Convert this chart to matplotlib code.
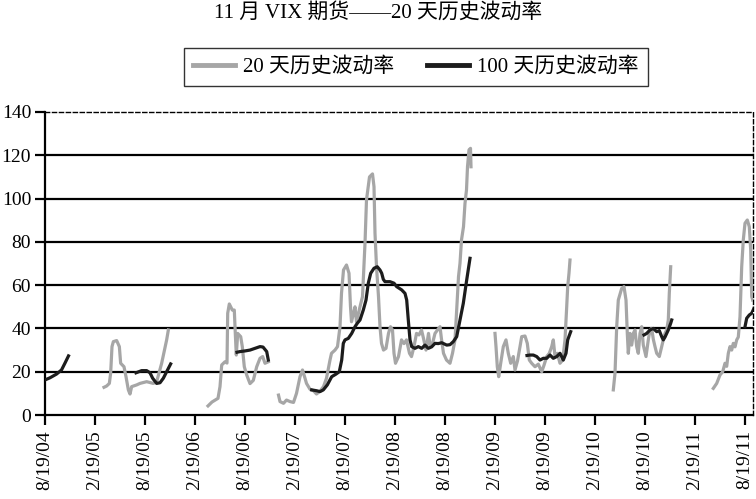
import numpy as np
import matplotlib
matplotlib.use("Agg")
import matplotlib.pyplot as plt

plt.rcParams['font.family'] = ['Liberation Serif', 'Noto Sans CJK SC', 'DejaVu Sans']

# time axis: half-years since 8/19/04
tick_labels = ['8/19/04', '2/19/05', '8/19/05', '2/19/06', '8/19/06', '2/19/07', '8/19/07',
               '2/19/08', '8/19/08', '2/19/09', '8/19/09', '2/19/10', '8/19/10', '2/19/11', '8/19/11']

# 20-day historical volatility, one piece per November contract
g05_t = [1.18, 1.233, 1.287, 1.313, 1.34, 1.367, 1.433, 1.487, 1.513, 1.58, 1.62, 1.667, 1.7,
         1.733, 1.833, 1.9, 2.033, 2.167, 2.233, 2.333, 2.433, 2.467]
g05_v = [12.8, 13.4, 14.6, 19.3, 31.6, 33.9, 34.4, 31.6, 23.9, 22.3, 17.7, 11.6, 9.7,
         13.1, 13.9, 14.6, 15.4, 14.6, 15.4, 23.9, 34.7, 39.3]

g06_t = [3.26, 3.34, 3.46, 3.5, 3.534, 3.6, 3.64, 3.654, 3.686, 3.746, 3.786, 3.806, 3.826,
         3.854, 3.914, 3.946, 3.986, 4.034, 4.1, 4.166, 4.234, 4.3, 4.354, 4.4, 4.466]
g06_v = [4.2, 6, 7.7, 13.1, 23.1, 24.6, 24, 47, 51.3, 48.5, 48.5, 37.7, 27.7,
         37.7, 36.2, 31.6, 22.3, 18.5, 14.5, 16, 22.3, 26.2, 27, 23.9, 24.6]

g08_t = [4.67, 4.70, 4.77, 4.83, 4.90, 4.97, 5.03, 5.10, 5.15, 5.20, 5.23, 5.30, 5.37, 5.43,
         5.50, 5.57, 5.63, 5.70, 5.73, 5.80, 5.85, 5.90, 5.93, 5.97, 6.03, 6.08, 6.11, 6.13,
         6.17, 6.20, 6.23, 6.30, 6.35, 6.40, 6.43, 6.49, 6.55, 6.58, 6.60, 6.63, 6.67, 6.70,
         6.73, 6.77, 6.82, 6.87, 6.91, 6.95, 6.98, 7.01, 7.07, 7.13, 7.18, 7.23, 7.29, 7.33,
         7.38, 7.43, 7.48, 7.53, 7.57, 7.62, 7.67, 7.70, 7.75, 7.80, 7.85, 7.90, 7.93, 7.97,
         8.03, 8.10, 8.15, 8.20, 8.23, 8.27, 8.30, 8.33, 8.37, 8.40, 8.43, 8.45, 8.48, 8.51, 8.52]
g08_v = [9.2, 6.2, 5.4, 6.9, 6.2, 5.8, 10, 17.7, 20.8, 17, 14.6, 11.9, 11.2, 9.7,
         11, 13.1, 17, 25.4, 28.5, 30, 31.6, 40.8, 56.2, 67, 69.3, 65.5, 50, 43.1,
         47, 50, 43.1, 50, 54.7, 79.3, 99.4, 110, 111.4, 105.5, 84, 68.5, 54.7, 40.8,
         33.1, 30, 30.8, 37.7, 40.8, 39.3, 28.5, 23.9, 27, 34.7, 33, 34.7, 28.5, 27,
         31.6, 37.7, 37, 39.3, 35.4, 30, 37.7, 32.3, 33, 37.7, 39.3, 40.8, 35, 28.5,
         25.4, 23.9, 28.5, 34.7, 47, 63.9, 70.1, 80.9, 87, 97.8, 104, 114.7, 122.5, 123.2, 114.7]

g09_t = [9.0, 9.02, 9.046, 9.074, 9.114, 9.166, 9.22, 9.266, 9.314, 9.366, 9.4, 9.45, 9.5,
         9.534, 9.6, 9.646, 9.686, 9.734, 9.8, 9.866, 9.934, 9.98, 10.034, 10.086, 10.134,
         10.166, 10.2, 10.246, 10.3, 10.354, 10.4, 10.434, 10.454, 10.48, 10.5]
g09_v = [37.7, 31.6, 22.3, 17.7, 23.9, 31.6, 34.7, 28.5, 23.9, 27, 20.8, 25, 31.6,
         36.2, 36.5, 33.1, 25.4, 23.9, 22.3, 23.5, 20, 23, 27, 28.5, 31.6,
         34.7, 27, 28.5, 23.9, 25.4, 34.7, 50, 59.3, 65.5, 71.6]

g10_t = [11.366, 11.4, 11.434, 11.466, 11.534, 11.58, 11.62, 11.646, 11.666, 11.7, 11.734,
         11.766, 11.8, 11.834, 11.866, 11.9, 11.934, 11.966, 12.02, 12.066, 12.1, 12.134,
         12.166, 12.2, 12.234, 12.286, 12.334, 12.366, 12.4, 12.434, 12.466, 12.486, 12.514]
g10_v = [11.6, 19.3, 40.8, 53.1, 58.5, 59.3, 53.1, 37.7, 28.5, 37.7, 32.3,
         37.7, 39.3, 31.6, 28.5, 37.7, 40.8, 32.3, 27, 34.7, 39.3, 40,
         35, 31.6, 28.5, 27, 31.6, 34.7, 37.7, 39.3, 43.9, 56.2, 68.5]

g11_t = [13.366, 13.434, 13.5, 13.554, 13.6, 13.634, 13.666, 13.7, 13.734, 13.766, 13.8,
         13.834, 13.866, 13.9, 13.934, 13.966, 14.0, 14.046, 14.086, 14.114, 14.134, 14.154]
g11_v = [12.3, 14.6, 18.5, 20, 23.9, 22.5, 28.5, 31.6, 30, 33.1, 31.5,
         34.7, 36, 45.4, 68.5, 80.9, 88.6, 90.1, 87, 76.2, 54.7, 53.1]

# 100-day historical volatility
b04_t = [0, 0.1, 0.23, 0.33, 0.4, 0.47]
b04_v = [16.2, 17.2, 18.9, 20.8, 24.0, 27.3]

b05_t = [1.82, 1.933, 2.033, 2.1, 2.153, 2.233, 2.3, 2.367, 2.433, 2.513]
b05_v = [19.5, 20.5, 20.5, 19.5, 17.0, 14.6, 14.9, 17.0, 20.0, 23.6]

b06_t = [3.84, 3.9, 4.0, 4.1, 4.2, 4.3, 4.36, 4.434, 4.466]
b06_v = [29, 29.3, 29.6, 30, 30.8, 31.6, 31.4, 29.3, 25.4]

b08_t = [5.334, 5.434, 5.5, 5.566, 5.646, 5.734, 5.82, 5.886, 5.934, 5.966, 6.0, 6.066, 6.134,
         6.2, 6.246, 6.3, 6.366, 6.42, 6.466, 6.514, 6.58, 6.646, 6.7, 6.734, 6.766, 6.8, 6.9,
         6.98, 7.034, 7.134, 7.2, 7.234, 7.266, 7.3, 7.334, 7.4, 7.466, 7.534, 7.6, 7.666,
         7.734, 7.8, 7.866, 7.934, 8.034, 8.1, 8.166, 8.234, 8.3, 8.366, 8.434, 8.5]
b08_v = [11.6, 11.2, 10.8, 11.6, 13.9, 17.7, 18.9, 20, 25.4, 33.1, 34.7, 35.4, 37.7,
         40.8, 42.4, 43.9, 48.5, 53.1, 60.9, 65.5, 67.8, 68.5, 67, 65.5, 62.7, 61.6, 61.6,
         60.9, 59.3, 57.8, 56.2, 53.1, 43.9, 34.7, 31.6, 30.8, 31.6, 30.8, 32.3, 30.8,
         31.5, 33.1, 33, 33.4, 32.3, 32.5, 33.9, 36.2, 43.9, 51.6, 62.4, 72.4]

b09_t = [9.64, 9.7, 9.766, 9.834, 9.9, 9.966, 10.034, 10.1, 10.166, 10.234, 10.3, 10.366,
         10.42, 10.454, 10.514]
b09_v = [27.5, 27.7, 27.7, 27, 25.4, 26.2, 26.2, 27.7, 26.2, 27, 28.5, 25.4, 28.5, 34.7, 38.5]

b10_t = [11.98, 12.034, 12.1, 12.166, 12.234, 12.286, 12.334, 12.366, 12.4, 12.434, 12.466,
         12.514, 12.534]
b10_v = [37, 37.7, 39.3, 40, 38.5, 39, 36.2, 34.7, 36, 37.7, 39.3, 42.4, 43.9]

b11_t = [14.0, 14.034, 14.086, 14.134, 14.18]
b11_v = [40.8, 44.7, 46.2, 47, 49.3]

gray_parts = [(g05_t, g05_v), (g06_t, g06_v), (g08_t, g08_v), (g09_t, g09_v),
              (g10_t, g10_v), (g11_t, g11_v)]
black_parts = [(b04_t, b04_v), (b05_t, b05_v), (b06_t, b06_v), (b08_t, b08_v),
               (b09_t, b09_v), (b10_t, b10_v), (b11_t, b11_v)]

gray = '#a6a6a6'
dark = '#1c1c1c'

fig = plt.figure(figsize=(7.56, 4.99), dpi=100)
ax = fig.add_axes([45/756, 1 - 415/499, 708/756, 303/499])

for i, (t, v) in enumerate(gray_parts):
    ax.plot(t, v, color=gray, lw=2.3, solid_joinstyle='round',
            label='20 天历史波动率' if i == 0 else None, zorder=3)
for i, (t, v) in enumerate(black_parts):
    ax.plot(t, v, color=dark, lw=2.3, solid_joinstyle='round',
            label='100 天历史波动率' if i == 0 else None, zorder=4)

ax.set_xlim(0, 14.16)
ax.set_ylim(0, 140)
ax.set_yticks(range(0, 141, 20))
ax.set_xticks(range(len(tick_labels)))
ax.set_xticklabels(tick_labels, rotation=90, fontsize=14)
ax.tick_params(axis='y', labelsize=14, length=7, width=1.6, pad=3)
ax.tick_params(axis='x', length=7, width=1.6, pad=4)
for y in range(20, 140, 20):
    ax.axhline(y, color='black', lw=1.6, zorder=1)

for s in ['left', 'bottom']:
    ax.spines[s].set_linewidth(1.6)
for s in ['top', 'right']:
    ax.spines[s].set_linewidth(1.0)
    ax.spines[s].set_linestyle((0, (3, 2)))

fig.suptitle('11 月 VIX 期货——20 天历史波动率', y=0.995, fontsize=15)
leg = fig.legend(loc='center', bbox_to_anchor=(416/756, 1 - 67/499), ncol=2, fontsize=15,
                 frameon=True, fancybox=False, edgecolor='black', handlelength=2.0,
                 columnspacing=1.6, handletextpad=0.4, borderpad=0.45)
leg.get_frame().set_linewidth(1.0)
for h in leg.get_lines():
    h.set_linewidth(3.5)

fig.savefig('out.png', dpi=100)
